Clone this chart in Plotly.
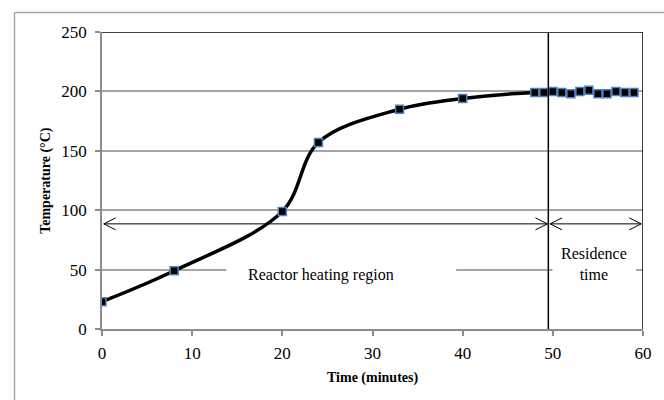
import plotly.graph_objects as go

# Data
time_min = [0, 8, 20, 24, 33, 40, 48, 49, 50, 51, 52, 53, 54, 55, 56, 57, 58, 59]
temperature = [23, 49, 99, 157, 185, 194, 199, 199, 200, 199, 198, 200, 201, 198, 198, 200, 199, 199]

x_ticks = [0, 10, 20, 30, 40, 50, 60]
y_ticks = [0, 50, 100, 150, 200, 250]

split_time = 49.5
arrow_level = 88.5
heat_arrow = (0.2, 49.4)
res_arrow = (49.7, 59.8)

FONT = "Liberation Serif"
W, H = 664, 400
L, R, T, B = 102, 18, 31.5, 71
pw, ph = W - L - R, H - T - B
sx = pw / 60.0
sy = ph / 250.0

fig = go.Figure()
fig.add_trace(go.Scatter(
    x=time_min, y=temperature, mode="lines+markers",
    line=dict(color="black", width=3.5, shape="spline", smoothing=1.0),
    marker=dict(symbol="square", size=8, color="black",
                line=dict(color="#4f81bd", width=1.5)),
    showlegend=False, hoverinfo="x+y",
))

shapes = []
# white text boxes hiding the gridline (between gridlines and traces)
shapes.append(dict(type="rect", xref="x", yref="y", layer="between",
                   x0=(227 - L) / sx, x1=(458 - L) / sx, y0=40, y1=60,
                   fillcolor="white", line=dict(width=0)))
shapes.append(dict(type="rect", xref="x", yref="y", layer="between",
                   x0=(555 - L) / sx, x1=(639 - L) / sx, y0=40, y1=60,
                   fillcolor="white", line=dict(width=0)))
# plot frame top/right (black)
shapes.append(dict(type="line", xref="x", yref="y", x0=0, x1=60, y0=250, y1=250,
                   line=dict(color="black", width=1.5)))
shapes.append(dict(type="line", xref="x", yref="y", x0=60, x1=60, y0=0, y1=250,
                   line=dict(color="black", width=1.5)))
# vertical separator
shapes.append(dict(type="line", xref="x", yref="y", x0=split_time, x1=split_time, y0=0, y1=251.5,
                   line=dict(color="black", width=1.5)))
# outer chart border (light gray)
shapes.append(dict(type="line", xref="paper", yref="paper",
                   x0=(14 - L) / pw, x1=1.2, y0=(H - B - 12) / ph, y1=(H - B - 12) / ph,
                   line=dict(color="#a6a6a6", width=1.5)))
shapes.append(dict(type="line", xref="paper", yref="paper",
                   x0=(14 - L) / pw, x1=(14 - L) / pw, y0=-0.5, y1=(H - B - 12) / ph,
                   line=dict(color="#a6a6a6", width=1.5)))

# double-headed arrows
dxh = 12 / sx
dyh = 6 / sy
for a, b in (heat_arrow, res_arrow):
    shapes.append(dict(type="line", xref="x", yref="y", x0=a, x1=b, y0=arrow_level, y1=arrow_level,
                       line=dict(color="black", width=1)))
    shapes.append(dict(type="path", xref="x", yref="y",
                       path=f"M {a+dxh},{arrow_level+dyh} L {a},{arrow_level} L {a+dxh},{arrow_level-dyh}",
                       line=dict(color="black", width=1)))
    shapes.append(dict(type="path", xref="x", yref="y",
                       path=f"M {b-dxh},{arrow_level+dyh} L {b},{arrow_level} L {b-dxh},{arrow_level-dyh}",
                       line=dict(color="black", width=1)))

annotations = [
    dict(x=24.3, y=45.4, xref="x", yref="y", text="Reactor heating region", showarrow=False,
         font=dict(family=FONT, size=16, color="black")),
    dict(x=54.6, y=54.6, xref="x", yref="y", text="Residence<br>time", showarrow=False,
         font=dict(family=FONT, size=16, color="black"), align="center"),
    dict(x=(45 - L) / pw, y=0.5, xref="paper", yref="paper", text="<b>Temperature (°C)</b>",
         showarrow=False, textangle=-90, xanchor="center", yanchor="middle",
         font=dict(family=FONT, size=14, color="black")),
    dict(x=(374 - L) / pw, y=(H - B - 378) / ph, xref="paper", yref="paper", text="<b>Time (minutes)</b>",
         showarrow=False, xanchor="center", yanchor="middle",
         font=dict(family=FONT, size=14, color="black")),
]

fig.update_layout(
    width=W, height=H,
    margin=dict(l=L, r=R, t=T, b=B, pad=0),
    paper_bgcolor="white", plot_bgcolor="white",
    shapes=shapes, annotations=annotations,
    font=dict(family=FONT, size=17, color="black"),
    xaxis=dict(range=[0, 60], tickvals=x_ticks, showgrid=False, zeroline=False,
               showline=True, linecolor="#8c8c8c", linewidth=1.5,
               ticks="outside", ticklen=5, tickcolor="#8c8c8c", tickwidth=1.5,
               ticklabelstandoff=3,
               tickfont=dict(family=FONT, size=17, color="black")),
    yaxis=dict(range=[0, 250], tickvals=y_ticks, showgrid=True, gridcolor="#a6a6a6", gridwidth=1.5,
               zeroline=False, showline=True, linecolor="#8c8c8c", linewidth=1.5,
               ticks="outside", ticklen=5, tickcolor="#8c8c8c", tickwidth=1.5,
               ticklabelstandoff=5,
               tickfont=dict(family=FONT, size=17, color="black")),
)

fig.write_html("out.html")
